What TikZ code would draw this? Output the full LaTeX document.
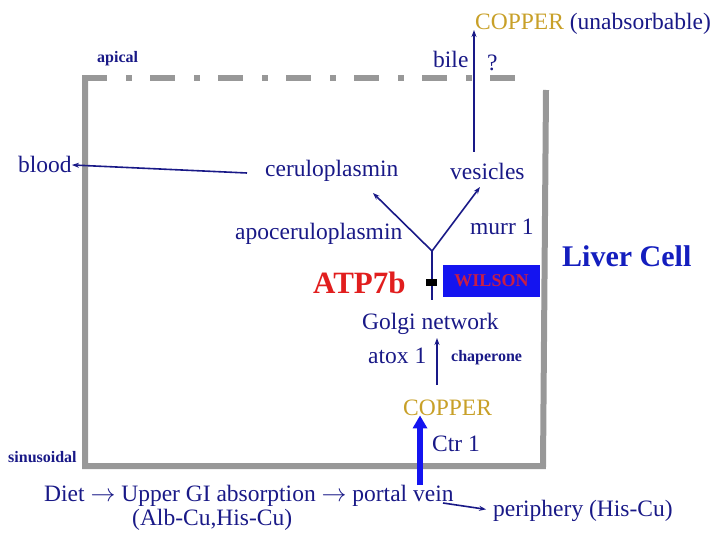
\documentclass[tikz,border=0pt]{standalone}
\usepackage{fontspec}
\setmainfont{Liberation Serif}
\usetikzlibrary{arrows.meta}
\definecolor{navy}{RGB}{25,25,135}
\definecolor{cellblue}{RGB}{20,30,190}
\definecolor{gold}{RGB}{200,160,40}
\definecolor{atpred}{RGB}{225,30,30}
\definecolor{wilblue}{RGB}{20,20,240}
\definecolor{wilred}{RGB}{200,30,70}
\definecolor{wallgray}{RGB}{152,152,152}
\begin{document}
\begin{tikzpicture}[x=1pt,y=-1pt,
  lbl/.style={inner sep=0pt,anchor=base west,text=navy,font=\fontsize{23.5}{26}\selectfont},
  tiny/.style={lbl,font=\bfseries\fontsize{16}{18}\selectfont},
  flow/.style={-{Stealth[length=7pt,width=5pt]},draw=navy,line width=1.6pt},
  wall/.style={draw=wallgray,line width=6pt}]
\useasboundingbox (0,0) rectangle (720,540);
\draw[wall] (85,78.5) -- (85,466) -- (543,466) -- (546,90);
\draw[wall,dash pattern=on 25pt off 19pt on 6pt off 18pt] (82,78.5) -- (528,78.5);
\node[lbl,text=gold] (cutop) at (475,30) {COPPER \textcolor{navy}{(unabsorbable)}};
\node[lbl] (bile) at (433,68) {bile};
\node[lbl] (query) at (487,71) {?};
\node[tiny] (apical) at (97,63) {apical};
\node[lbl] (blood) at (18,173) {blood};
\node[lbl] (cerulo) at (265,177) {ceruloplasmin};
\node[lbl] (vesic) at (450,180) {vesicles};
\node[lbl] (apocer) at (235,240) {apoceruloplasmin};
\node[lbl] (murr) at (470,234) {murr 1};
\node[lbl,text=cellblue,font=\bfseries\fontsize{30}{34}\selectfont] (liver) at (562,266) {Liver Cell};
\node[lbl,text=atpred,font=\bfseries\fontsize{31}{34}\selectfont] (atp) at (313,293) {ATP7b};
\node[fill=wilblue,minimum width=97pt,minimum height=32pt,inner sep=0pt,text=wilred,
  font=\bfseries\fontsize{18}{20}\selectfont] (wilson) at (491.5,281) {WILSON};
\node[lbl] (golgi) at (362,329) {Golgi network};
\node[lbl] (atox) at (368,363) {atox 1};
\node[tiny] (chap) at (451,361) {chaperone};
\node[lbl,text=gold] (cuin) at (403,415) {COPPER};
\node[lbl] (ctr) at (432,451) {Ctr 1};
\node[tiny] (sinus) at (8,462) {sinusoidal};
\node[lbl] (diet) at (44,501) {Diet $\rightarrow$ Upper GI absorption $\rightarrow$ portal vein};
\node[lbl] (albcu) at (132,525) {(Alb-Cu,His-Cu)};
\node[lbl] (periph) at (493,516) {periphery (His-Cu)};
\coordinate (bilefoot) at (474,152);
\coordinate (fork) at (432,251);
\coordinate (forkfoot) at (432,300);
\coordinate (ceruend) at (373,193);
\coordinate (vesicend) at (480,187);
\coordinate (bloodtail) at (247,173);
\coordinate (atoxfoot) at (437,385);
\coordinate (atoxhead) at (437,338);
\coordinate (veinfoot) at (420,485);
\coordinate (veintail) at (443,503);
\draw[flow] (bilefoot) -- (bilefoot |- cutop.base);
\draw[flow] (bloodtail) -- (blood.east);
\draw[flow] (fork) -- (ceruend);
\draw[flow] (fork) -- (vesicend);
\draw[navy,line width=1.3pt] (fork) -- (forkfoot);
\fill (426,279) rectangle (437,286);
\draw[flow] (atoxfoot) -- (atoxhead);
\draw[wilblue,line width=6pt,-{Triangle[length=13pt,width=14pt]}] (veinfoot) -- (veinfoot |- cuin.south);
\draw[flow,shorten >=7pt] (veintail) -- (periph.west);
\end{tikzpicture}
\end{document}
